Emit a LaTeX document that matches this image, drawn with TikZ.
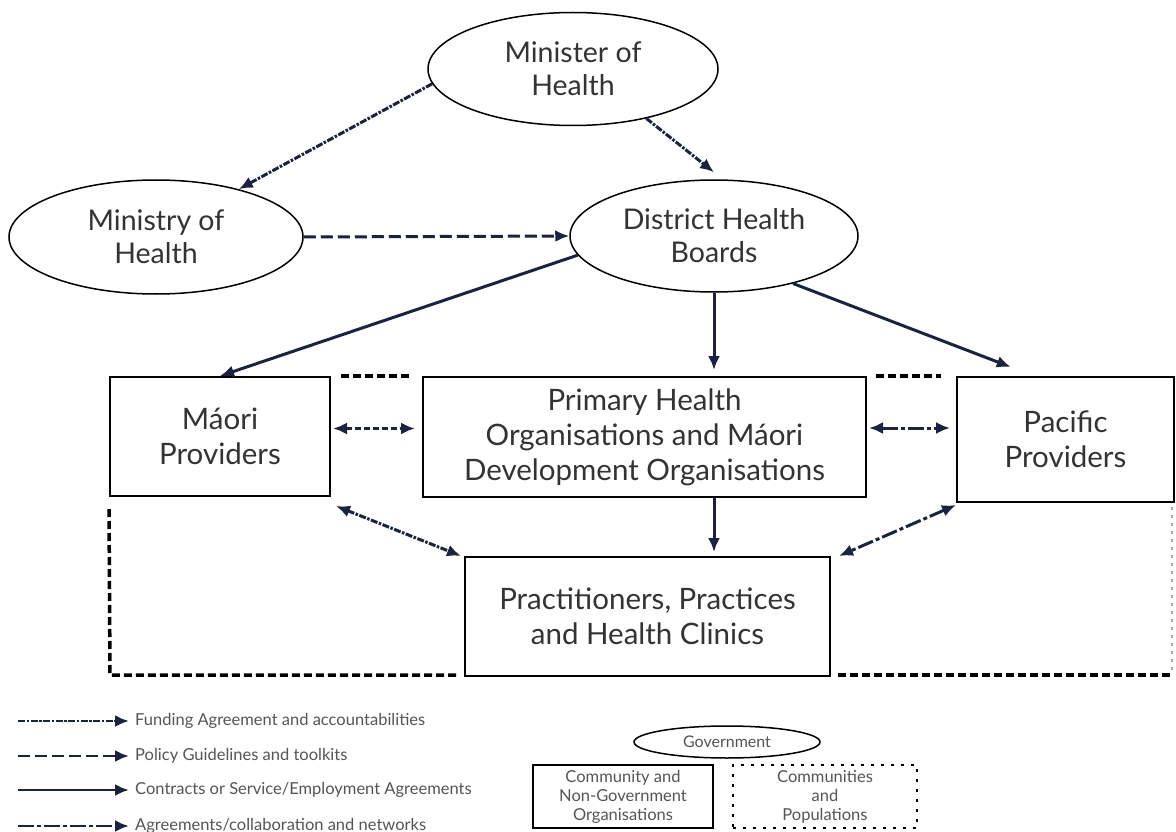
\documentclass[tikz,border=0pt]{standalone}
\usepackage{fontspec}
\setmainfont{Lato}
\usetikzlibrary{shapes.geometric,arrows.meta,calc}
\definecolor{navy}{HTML}{1B2340}
\definecolor{txt}{HTML}{333333}
\definecolor{legtxt}{HTML}{555555}
\begin{document}
\begin{tikzpicture}[x=1pt,y=-1pt,
  oval/.style={ellipse, draw=black, line width=1.5pt, fill=white, inner sep=0pt, align=center, text=txt, font=\fontsize{28.5}{33}\selectfont},
  orgbox/.style={rectangle, draw=black, line width=2pt, fill=white, inner sep=0pt, align=center, text=txt, font=\fontsize{29.5}{35}\selectfont},
  conn/.style={draw=navy, line width=3pt, -{Latex[length=14pt,width=12pt]}},
  biconn/.style={draw=navy, line width=3pt, {Latex[length=14pt,width=12pt]}-{Latex[length=14pt,width=12pt]}},
  funding/.style={dash pattern=on 7pt off 1.5pt on 2.5pt off 1.5pt},
  policy/.style={dash pattern=on 12pt off 5pt},
  agree/.style={dash pattern=on 16pt off 3pt on 4pt off 3pt},
  bidash/.style={dash pattern=on 6pt off 3pt},
  commline/.style={draw=black, line width=3.5pt, dash pattern=on 8pt off 4pt},
  commfaint/.style={draw=black!35, line width=1.5pt, dash pattern=on 3pt off 5pt},
  legtext/.style={anchor=west, text=legtxt, font=\fontsize{16.5}{18}\selectfont, inner sep=0pt},
  legsmall/.style={align=center, text=legtxt, font=\fontsize{16.5}{19}\selectfont, inner sep=0pt}
]
\useasboundingbox (0,0) rectangle (1176,832);
\fill[white] (0,0) rectangle (1176,832);

% top ellipses
\node[oval, minimum width=290pt, minimum height=113pt] (minister) at (573,69) {Minister of\\Health};
\node[oval, minimum width=294pt, minimum height=114pt] (ministry) at (156,237) {Ministry of\\Health};
\node[oval, minimum width=288pt, minimum height=112pt] (dhb) at (714,236) {District Health\\Boards};

% boxes
\node[orgbox, minimum width=220pt, minimum height=119pt] (maori) at (220,436.5) {Máori\\Providers};
\node[orgbox, minimum width=443pt, minimum height=120pt] (pho) at (644.5,437) {Primary Health\\Organisations and Máori\\Development Organisations};
\node[orgbox, minimum width=217pt, minimum height=125pt] (pacific) at (1065.5,439.5) {Pacific\\Providers};
\node[orgbox, minimum width=365pt, minimum height=119pt] (pract) at (647.5,616.5) {Practitioners, Practices\\and Health Clinics};

% communities area outline (visible parts)
\coordinate (cbl) at (110,675);
\coordinate (cbr) at (1172,675);
\draw[commline] ([yshift=-12pt]maori.south west) -- (cbl) -- ([xshift=-7pt]cbl -| pract.west);
\draw[commline] ([xshift=7pt]cbr -| pract.east) -- (cbr);
\draw[commfaint] ([yshift=-4pt]cbr |- pacific.south) -- (cbr);
\draw[commline] ([xshift=10pt]maori.north east) -- ([xshift=-13pt]maori.north east -| pho.west);
\draw[commline] ([xshift=9pt]pho.north east) -- ([xshift=-15pt]pho.north east -| pacific.west);

% connectors
\draw[conn, funding] (minister.186) -- (ministry.30);
\draw[conn, funding] (minister.-34) -- ([yshift=7pt]dhb.north);
\draw[conn, policy] (ministry.east) -- (dhb.west);
\draw[conn] (dhb.188) -- (maori.north);
\draw[conn] (dhb.south) -- ([yshift=6pt]dhb.south |- pho.north);
\draw[conn] (dhb.-31) -- ([yshift=9pt]$(pacific.north west)!0.25!(pacific.north east)$);
\draw[biconn, bidash] ([xshift=2pt,yshift=8pt]maori.east) -- ([xshift=-7pt,yshift=8pt]maori.east -| pho.west);
\draw[biconn, agree] ([xshift=2pt,yshift=9pt]pho.east) -- ([xshift=-6pt,yshift=9pt]pho.east -| pacific.west);
\draw[conn] (pho.south -| dhb.south) -- ([yshift=4pt]pract.north -| dhb.south);
\draw[biconn, funding] ([xshift=5pt,yshift=-9pt]maori.south east) -- ([xshift=-3pt]pract.north west);
\draw[biconn, agree] ([yshift=-2pt]pacific.south west) -- ([xshift=8pt]pract.north east);

% legend lines
\coordinate (la1) at (18,721);  \coordinate (lb1) at (129,721);
\coordinate (la2) at (18,756);  \coordinate (lb2) at (129,756);
\coordinate (la3) at (18,790);  \coordinate (lb3) at (129,790);
\coordinate (la4) at (18,826);  \coordinate (lb4) at (129,826);
\draw[conn, funding, line width=2.8pt] (la1) -- (lb1);
\draw[conn, policy, line width=2.8pt] (la2) -- (lb2);
\draw[conn, line width=2.8pt] (la3) -- (lb3);
\draw[conn, agree, line width=2.8pt] (la4) -- (lb4);
\node[legtext] (lt1) at (135,721) {Funding Agreement and accountabilities};
\node[legtext] (lt2) at (135,756) {Policy Guidelines and toolkits};
\node[legtext] (lt3) at (135,790) {Contracts or Service/Employment Agreements};
\node[legtext] (lt4) at (135,826) {Agreements/collaboration and networks};

% legend shapes
\node[ellipse, draw=black, line width=1.5pt, inner sep=0pt, minimum width=186pt, minimum height=32pt, text=legtxt, font=\fontsize{16}{18}\selectfont] (gov) at (727,742) {Government};
\node[rectangle, draw=black, line width=2.2pt, minimum width=180pt, minimum height=63pt, legsmall] (ngo) at (623,796.5) {Community and\\Non-Government\\Organisations};
\node[rectangle, draw=black, line width=2.2pt, dash pattern=on 3pt off 7pt, minimum width=184pt, minimum height=63pt, legsmall] (pop) at (825,796.5) {Communities\\and\\Populations};
\end{tikzpicture}
\end{document}
